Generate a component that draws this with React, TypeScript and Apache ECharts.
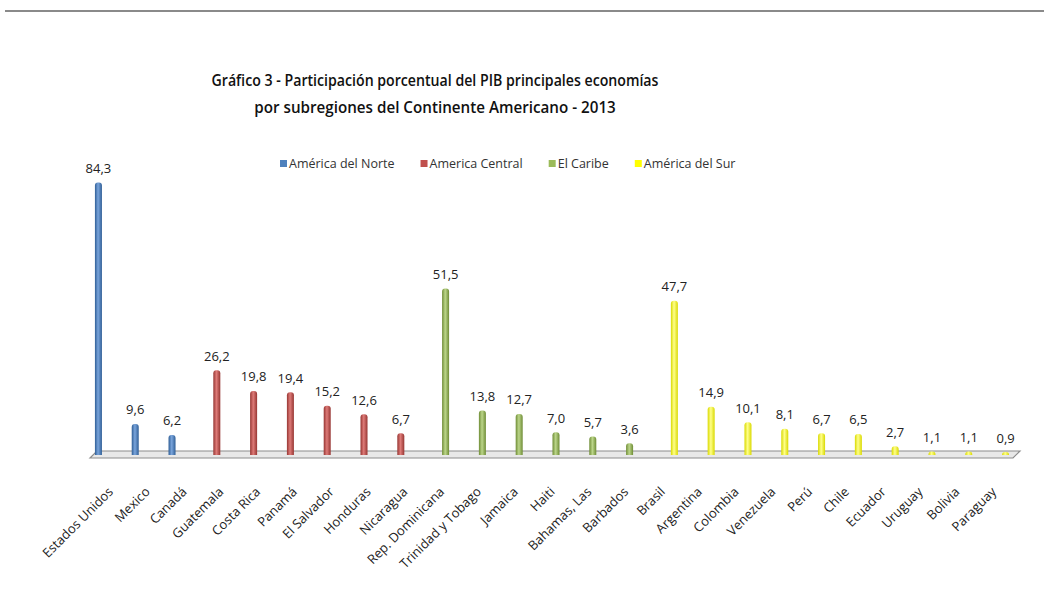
import React, { useEffect, useRef } from "react";
import * as echarts from "echarts";

const categories = [
  "Estados Unidos", "Mexico", "Canadá",
  "Guatemala", "Costa Rica", "Panamá", "El Salvador", "Honduras", "Nicaragua",
  "Rep. Dominicana", "Trinidad y Tobago", "Jamaica", "Haiti", "Bahamas, Las", "Barbados",
  "Brasil", "Argentina", "Colombia", "Venezuela", "Perú", "Chile", "Ecuador", "Uruguay", "Bolivia", "Paraguay",
];

const seriesNames = ["América del Norte", "America Central", "El Caribe", "América del Sur"];
const norte = [84.3, 9.6, 6.2];
const central = [26.2, 19.8, 19.4, 15.2, 12.6, 6.7];
const caribe = [51.5, 13.8, 12.7, 7.0, 5.7, 3.6];
const sur = [47.7, 14.9, 10.1, 8.1, 6.7, 6.5, 2.7, 1.1, 1.1, 0.9];

const titleLines = [
  "Gráfico 3 - Participación porcentual del PIB principales economías",
  "por subregiones del Continente Americano - 2013",
];

const groups = [norte, central, caribe, sur];
const colors = ["#4F81BD", "#C0504D", "#9BBB59", "#FFFF00"];
const shades = [
  ["#2f5e96", "#7aa5dc", "#2f5e96"],
  ["#963532", "#de7b78", "#963532"],
  ["#6e8c35", "#bcd68a", "#6e8c35"],
  ["#d9d900", "#ffff8a", "#d9d900"],
];

function buildSeriesData(idx: number): (number | null)[] {
  const out: (number | null)[] = new Array(categories.length).fill(null);
  let start = 0;
  for (let g = 0; g < idx; g++) start += groups[g].length;
  groups[idx].forEach((v, i) => {
    out[start + i] = v;
  });
  return out;
}

export default function App() {
  const ref = useRef<HTMLDivElement>(null);
  useEffect(() => {
    if (!ref.current) return;
    const chart = echarts.init(ref.current, null, { renderer: "svg" });
    const font = "'Open Sans', 'Noto Sans', sans-serif";
    const series = seriesNames.map((name, i) => ({
      name,
      type: "bar",
      data: buildSeriesData(i),
      barWidth: 7,
      barGap: "14%",
      itemStyle: {
        color: new echarts.graphic.LinearGradient(0, 0, 1, 0, [
          { offset: 0, color: shades[i][0] },
          { offset: 0.45, color: shades[i][1] },
          { offset: 1, color: shades[i][2] },
        ]),
        borderRadius: [3, 3, 0, 0],
      },
      label: {
        show: true,
        position: "top",
        distance: 8,
        fontFamily: font,
        fontSize: 13,
        color: "#222",
        formatter: (p: any) => (p.value == null ? "" : Number(p.value).toFixed(1).replace(".", ",")),
      },
      z: 3,
    }));
    chart.setOption({
      animation: false,
      backgroundColor: "#ffffff",
      color: colors,
      legend: {
        data: seriesNames.map((n, i) => ({ name: n, itemStyle: { color: colors[i] } })),
        top: 152,
        left: 275,
        icon: "rect",
        itemWidth: 7,
        itemHeight: 7,
        itemGap: 26,
        textStyle: { fontFamily: font, fontSize: 12.5, color: "#333", padding: [0, 0, 0, -3] },
      },
      grid: { left: 92, right: 32, top: 164, bottom: 149, containLabel: false },
      xAxis: {
        type: "category",
        data: categories,
        axisLine: { show: false },
        axisTick: { show: false },
        axisLabel: {
          rotate: 45,
          interval: 0,
          margin: 34,
          fontFamily: font,
          fontSize: 13,
          color: "#222",
        },
      },
      yAxis: {
        type: "value",
        min: 0,
        max: 90,
        show: false,
        splitLine: { show: false },
      },
      graphic: [
        {
          type: "line",
          shape: { x1: 5, y1: 11, x2: 1044, y2: 11 },
          style: { stroke: "#8a8a8a", lineWidth: 2 },
        },
        {
          type: "text",
          x: 435,
          y: 80,
          scaleX: 0.885,
          style: {
            text: titleLines[0],
            font: "600 16px 'Open Sans', sans-serif",
            fill: "#111",
            textAlign: "center",
            textVerticalAlign: "middle",
          },
        },
        {
          type: "text",
          x: 435,
          y: 107,
          scaleX: 0.95,
          style: {
            text: titleLines[1],
            font: "600 16px 'Open Sans', sans-serif",
            fill: "#111",
            textAlign: "center",
            textVerticalAlign: "middle",
          },
        },
        {
          type: "polygon",
          z: 1,
          shape: { points: [[90, 458], [97, 451], [1020, 451], [1013, 458]] },
          style: { fill: "#e8e8e8", stroke: "#8c8c8c", lineWidth: 1.2 },
        },
      ],
      series,
    });
    return () => chart.dispose();
  }, []);
  return (
    <div
      ref={ref}
      style={{ position: "fixed", left: 0, top: 0, width: 1044, height: 604, background: "#fff" }}
    />
  );
}
